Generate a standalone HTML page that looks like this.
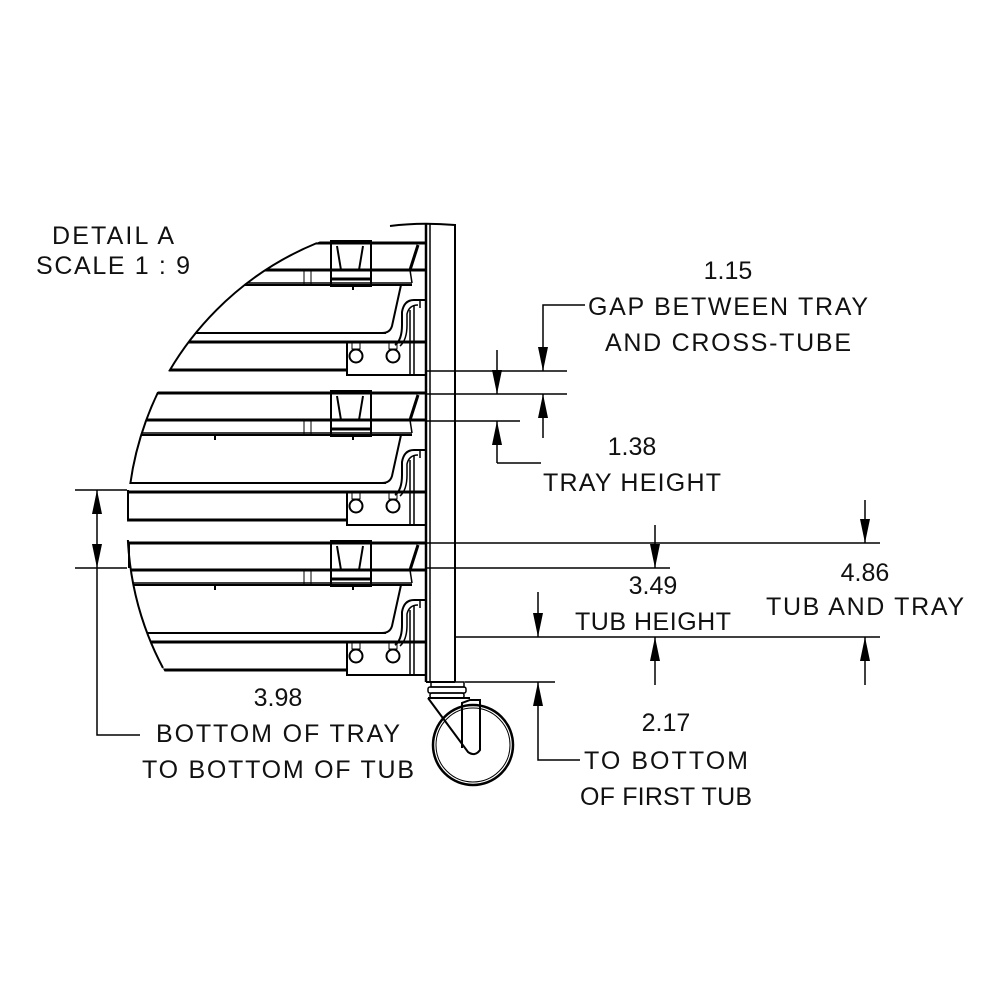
<!DOCTYPE html>
<html><head><style>
html,body{margin:0;padding:0;background:#fff;}
svg{display:block;}
text{font-family:"Liberation Sans",sans-serif;font-size:25px;fill:#111;text-anchor:middle;}
</style></head><body>
<svg width="1000" height="1000" viewBox="0 0 1000 1000" xmlns="http://www.w3.org/2000/svg">
<defs>
<clipPath id="c"><circle cx="432" cy="525" r="305"/></clipPath>
<clipPath id="arcclip">
  <rect x="0" y="240" width="500" height="131"/>
  <rect x="0" y="392" width="500" height="92"/>
  <rect x="0" y="540" width="500" height="130"/>
</clipPath>
<marker id="a" markerWidth="24" markerHeight="10" refX="24" refY="5" orient="auto" markerUnits="userSpaceOnUse" viewBox="0 0 24 10">
<path d="M0,0 L24,5 L0,10 Z" fill="#000"/></marker>
<g id="unit" fill="none" stroke="#000">
  <line x1="100" y1="243" x2="426" y2="243" stroke-width="3"/>
  <path d="M418,245 L410,270" stroke-width="3"/>
  <line x1="100" y1="270" x2="426" y2="270" stroke-width="3"/>
  <line x1="100" y1="283" x2="412" y2="283" stroke-width="1.5"/>
  <path d="M412,283 L410,270" stroke-width="1.5"/>
  <line x1="100" y1="285" x2="412" y2="285" stroke-width="2"/>
  <rect x="331" y="241" width="40" height="45" stroke-width="2"/>
  <path d="M337,246 L341,270 L359,270 L363,246" stroke-width="2"/>
  <line x1="332" y1="279" x2="370" y2="279" stroke-width="3"/>
  <line x1="215" y1="285" x2="215" y2="290" stroke-width="2"/>
  <line x1="353" y1="285" x2="353" y2="290" stroke-width="2"/>
  <line x1="304" y1="270" x2="304" y2="285" stroke-width="1"/>
  <line x1="311" y1="270" x2="311" y2="285" stroke-width="1"/>
  <path d="M401,285 L392,326 Q390,333 382,333" stroke-width="2"/>
  <line x1="100" y1="333" x2="386" y2="333" stroke-width="2"/>
  <line x1="100" y1="342" x2="426" y2="342" stroke-width="3"/>
  <line x1="100" y1="370" x2="347" y2="370" stroke-width="3"/>
  <path d="M347,342 L347,375 L426,375" stroke-width="2"/>
  <circle cx="356" cy="356" r="6.5" stroke-width="2"/>
  <circle cx="393" cy="356" r="6.5" stroke-width="2"/>
  <rect x="352" y="343" width="8" height="6" stroke-width="1"/>
  <rect x="389" y="343" width="8" height="6" stroke-width="1"/>
  <path d="M395,345 Q402,340 402,325 L402,312 Q404,300 414,300 L426,300" stroke-width="2"/>
  <path d="M400,346 Q407,340 407,325 L407,314 Q409,305 418,305" stroke-width="1.5"/>
  <line x1="410" y1="310" x2="410" y2="375" stroke-width="1.5"/>
  <line x1="414" y1="305" x2="414" y2="375" stroke-width="1.5"/>
  <line x1="420" y1="300" x2="420" y2="308" stroke-width="1.5"/>
</g>
</defs>
<g clip-path="url(#c)">
  <use href="#unit"/>
  <use href="#unit" y="150"/>
  <use href="#unit" y="300"/>
</g>
<path d="M317,243 A305,305 0 0 0 163,668" fill="none" stroke="#000" stroke-width="2" clip-path="url(#arcclip)"/>
<g fill="none" stroke="#000" stroke-width="2">
  <line x1="128" y1="490" x2="128" y2="520"/>
  <line x1="129" y1="542" x2="129" y2="568"/>
</g>
<g fill="none" stroke="#000">
  <line x1="426" y1="224" x2="426" y2="682" stroke-width="2.5"/>
  <line x1="430" y1="224" x2="430" y2="682" stroke-width="1.5"/>
  <line x1="455" y1="224" x2="455" y2="682" stroke-width="2"/>
  <path d="M390,226 Q420,222 455,225" stroke-width="2"/>
  <line x1="426" y1="682" x2="455" y2="682" stroke-width="2"/>
  <rect x="431" y="682" width="33" height="5" stroke-width="1.5"/>
  <rect x="428" y="687" width="38" height="6" rx="2" stroke-width="1.5"/>
  <rect x="430" y="693" width="34" height="5" rx="2" stroke-width="1.5"/>
  <circle cx="473" cy="745" r="40" stroke-width="2.5"/>
  <circle cx="473" cy="745" r="37" stroke-width="1"/>
  <path d="M428,698 L468,752 Q475,757 480,750 L480,700 L470,700 L462,703 L462,748" stroke-width="2"/>
  <line x1="428" y1="698" x2="470" y2="698" stroke-width="2"/>
</g>
<g fill="none" stroke="#000" stroke-width="1.5">
  <line x1="426" y1="371" x2="567" y2="371"/>
  <line x1="426" y1="394" x2="567" y2="394"/>
  <line x1="426" y1="421" x2="520" y2="421"/>
  <line x1="497" y1="350" x2="497" y2="394" marker-end="url(#a)"/>
  <line x1="497" y1="463" x2="497" y2="421" marker-end="url(#a)"/>
  <polyline points="541,463 497,463"/>
  <polyline points="585,305 543,305 543,371" marker-end="url(#a)"/>
  <line x1="543" y1="438" x2="543" y2="394" marker-end="url(#a)"/>

  <line x1="426" y1="543" x2="880" y2="543"/>
  <line x1="426" y1="568" x2="670" y2="568"/>
  <line x1="455" y1="637" x2="880" y2="637"/>
  <line x1="865" y1="500" x2="865" y2="543" marker-end="url(#a)"/>
  <line x1="865" y1="685" x2="865" y2="637" marker-end="url(#a)"/>
  <line x1="655" y1="525" x2="655" y2="568" marker-end="url(#a)"/>
  <line x1="655" y1="685" x2="655" y2="637" marker-end="url(#a)"/>
  <line x1="538" y1="592" x2="538" y2="637" marker-end="url(#a)"/>
  <line x1="465" y1="682" x2="555" y2="682"/>
  <polyline points="580,760 538,760 538,682" marker-end="url(#a)"/>

  <line x1="75" y1="490" x2="127" y2="490"/>
  <line x1="75" y1="568" x2="127" y2="568"/>
  <line x1="97" y1="529" x2="97" y2="490" marker-end="url(#a)"/>
  <line x1="97" y1="529" x2="97" y2="568" marker-end="url(#a)"/>
  <polyline points="97,568 97,735 140,735"/>
</g>
<text x="113" y="244" textLength="122">DETAIL A</text>
<text x="113" y="274" textLength="154">SCALE 1 : 9</text>
<text x="728" y="279">1.15</text>
<text x="728" y="315" textLength="280">GAP BETWEEN TRAY</text>
<text x="728" y="351" textLength="246">AND CROSS-TUBE</text>
<text x="632" y="455">1.38</text>
<text x="632" y="491" textLength="178">TRAY HEIGHT</text>
<text x="653" y="594">3.49</text>
<text x="653" y="630" textLength="156">TUB HEIGHT</text>
<text x="865" y="581">4.86</text>
<text x="865" y="615" textLength="198">TUB AND TRAY</text>
<text x="278" y="706">3.98</text>
<text x="278" y="742" textLength="244">BOTTOM OF TRAY</text>
<text x="278" y="778" textLength="272">TO BOTTOM OF TUB</text>
<text x="666" y="731">2.17</text>
<text x="666" y="769" textLength="164">TO BOTTOM</text>
<text x="666" y="805" textLength="172">OF FIRST TUB</text>
</svg>
</body></html>
